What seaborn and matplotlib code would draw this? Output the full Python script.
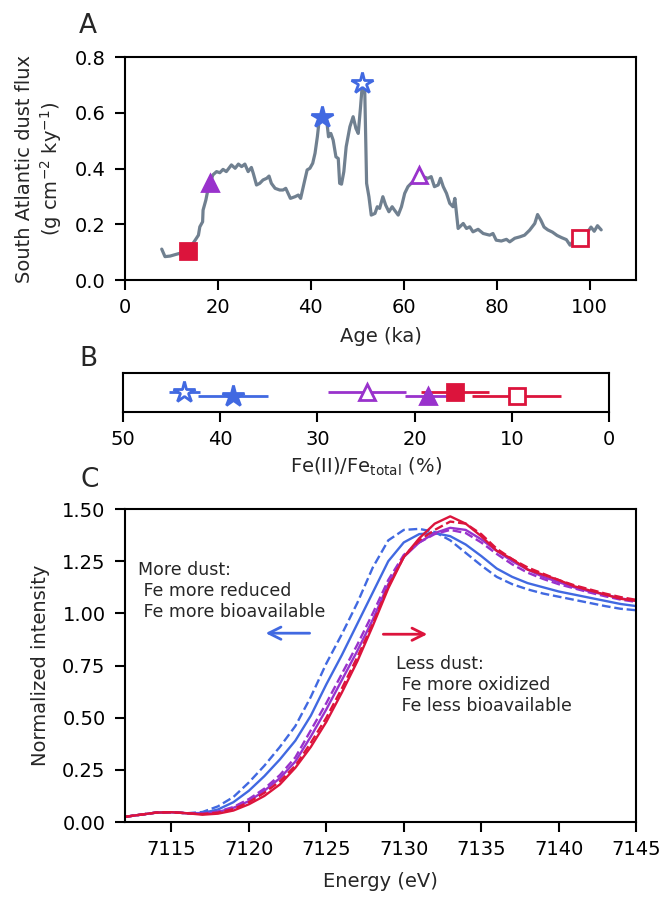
import numpy as np
import pandas as pd
import matplotlib
matplotlib.use("Agg")
import matplotlib.pyplot as plt
import seaborn as sns

# Panel A: South Atlantic dust flux record
age = [7.9, 8.6, 9.7, 11.8, 12.4, 13.5, 15.1, 15.8, 16.1, 16.7, 16.8, 17.4, 17.9, 18.3,
       18.9, 19.7, 20.4, 21.1, 21.8, 22.9, 23.7, 24.4, 25.1, 25.8, 26.5, 27.2, 27.6,
       28.3, 29.0, 29.7, 30.5, 31.0, 31.5, 32.3, 33.3, 34.0, 34.6, 35.1, 35.6, 36.6,
       37.3, 37.8, 38.2, 38.7, 39.2, 39.8, 40.4, 40.9, 41.4, 41.8, 42.5, 43.4, 43.8,
       44.3, 44.8, 45.4, 45.9, 46.2, 46.6, 47.1, 47.6, 48.4, 49.1, 49.7, 50.2, 50.7,
       51.1, 51.6, 52.0, 52.5, 53.0, 53.8, 54.3, 54.8, 55.5, 56.1, 56.8, 57.5, 58.0,
       58.8, 59.5, 60.2, 60.9, 61.6, 62.4, 63.2, 64.1, 65.2, 65.9, 66.6, 67.4, 67.9,
       68.5, 69.2, 69.9, 70.6, 71.0, 71.7, 72.8, 73.5, 74.2, 74.9, 76.0, 77.1, 78.5,
       79.2, 79.9, 81.0, 82.1, 82.8, 83.9, 85.0, 86.0, 87.1, 88.2, 88.8, 89.5, 90.2,
       91.0, 92.0, 93.0, 94.0, 95.0, 95.8, 96.5, 97.2, 98.0, 98.8, 99.5, 100.3, 101.0,
       101.7, 102.5]
flux = [0.111, 0.084, 0.086, 0.096, 0.078, 0.105, 0.143, 0.161, 0.191, 0.209, 0.251,
        0.287, 0.329, 0.347, 0.377, 0.389, 0.385, 0.397, 0.389, 0.413, 0.401, 0.416,
        0.407, 0.416, 0.389, 0.404, 0.383, 0.341, 0.347, 0.359, 0.365, 0.373, 0.347,
        0.329, 0.323, 0.323, 0.329, 0.311, 0.293, 0.299, 0.305, 0.293, 0.323, 0.359,
        0.395, 0.401, 0.419, 0.455, 0.514, 0.574, 0.586, 0.574, 0.514, 0.526, 0.502,
        0.442, 0.436, 0.347, 0.344, 0.389, 0.478, 0.550, 0.586, 0.544, 0.526, 0.622,
        0.706, 0.682, 0.347, 0.299, 0.233, 0.239, 0.263, 0.257, 0.299, 0.269, 0.245,
        0.263, 0.251, 0.233, 0.263, 0.311, 0.335, 0.347, 0.359, 0.377, 0.371, 0.365,
        0.371, 0.335, 0.341, 0.365, 0.335, 0.311, 0.275, 0.263, 0.293, 0.185, 0.203,
        0.185, 0.191, 0.173, 0.182, 0.167, 0.161, 0.167, 0.143, 0.140, 0.146, 0.137,
        0.150, 0.155, 0.161, 0.179, 0.203, 0.235, 0.215, 0.190, 0.180, 0.172, 0.160,
        0.152, 0.145, 0.125, 0.140, 0.128, 0.150, 0.160, 0.170, 0.190, 0.175, 0.195,
        0.180]

# samples: (age, flux) in A, Fe(II) % with error and row in B
sample_age = [13.5, 18.3, 42.5, 51.1, 63.2, 98.0]
sample_flux = [0.105, 0.347, 0.586, 0.706, 0.377, 0.150]
fe2 = [15.8, 18.6, 38.7, 43.7, 24.9, 9.5]
fe2_err = [3.5, 2.4, 3.6, 1.6, 4.0, 4.6]
fe2_row = [0.50, 0.42, 0.42, 0.50, 0.50, 0.42]
sample_color = ["crimson", "darkorchid", "royalblue", "royalblue", "darkorchid", "crimson"]
sample_marker = ["s", "^", "*", "*", "^", "s"]
sample_open = [False, False, False, True, True, True]

# Panel C: Fe K-edge XANES spectra
energy = list(range(7112, 7146))
base = [0.025, 0.035, 0.045, 0.047, 0.042]
spec_blue_open = base + [0.048, 0.075, 0.12, 0.19, 0.27, 0.36, 0.46, 0.60, 0.76, 0.90,
                         1.05, 1.22, 1.35, 1.40, 1.405, 1.39, 1.35, 1.29, 1.23, 1.175,
                         1.14, 1.115, 1.095, 1.08, 1.065, 1.05, 1.035, 1.022, 1.015]
spec_blue_fill = base + [0.043, 0.06, 0.095, 0.15, 0.22, 0.30, 0.39, 0.51, 0.66, 0.80,
                         0.95, 1.10, 1.25, 1.34, 1.38, 1.385, 1.37, 1.33, 1.275, 1.215,
                         1.175, 1.145, 1.125, 1.105, 1.09, 1.075, 1.06, 1.045, 1.035]
spec_purple_open = base + [0.04, 0.05, 0.072, 0.11, 0.16, 0.225, 0.31, 0.44, 0.57, 0.71,
                           0.85, 1.00, 1.16, 1.28, 1.34, 1.38, 1.40, 1.385, 1.34, 1.285,
                           1.235, 1.195, 1.165, 1.14, 1.12, 1.10, 1.082, 1.066, 1.055]
spec_purple_fill = base + [0.04, 0.048, 0.068, 0.10, 0.15, 0.21, 0.29, 0.41, 0.54, 0.68,
                           0.82, 0.97, 1.14, 1.27, 1.34, 1.385, 1.41, 1.40, 1.355, 1.30,
                           1.25, 1.21, 1.175, 1.15, 1.125, 1.105, 1.09, 1.072, 1.06]
spec_red_open = base + [0.038, 0.045, 0.062, 0.095, 0.14, 0.195, 0.27, 0.38, 0.50, 0.64,
                        0.79, 0.95, 1.13, 1.27, 1.35, 1.40, 1.44, 1.43, 1.38, 1.31,
                        1.26, 1.22, 1.19, 1.16, 1.135, 1.115, 1.095, 1.078, 1.065]
spec_red_fill = base + [0.035, 0.04, 0.055, 0.085, 0.125, 0.18, 0.26, 0.36, 0.48, 0.62,
                        0.77, 0.94, 1.12, 1.27, 1.36, 1.43, 1.465, 1.43, 1.37, 1.30,
                        1.26, 1.21, 1.185, 1.16, 1.13, 1.11, 1.09, 1.07, 1.06]

sns.set_style("ticks")
plt.rcParams.update({
    "font.family": ["DejaVu Sans"],
    "font.size": 14,
    "axes.edgecolor": "black",
    "axes.linewidth": 1.5,
    "xtick.major.width": 1.5,
    "ytick.major.width": 1.5,
    "xtick.major.size": 7,
    "ytick.major.size": 7,
    "xtick.major.pad": 6,
    "ytick.major.pad": 7,
    "xtick.color": "black",
    "ytick.color": "black",
    "xtick.labelsize": 14,
    "ytick.labelsize": 14,
    "axes.labelsize": 14,
})

fig = plt.figure(figsize=(6.64, 8.97), dpi=100)
axA = fig.add_axes([0.1883, 0.6878, 0.7696, 0.2486])
axB = fig.add_axes([0.1852, 0.5407, 0.7319, 0.0435])
axC = fig.add_axes([0.1883, 0.0836, 0.7696, 0.3489])

# A
sns.lineplot(x=age, y=flux, color="slategray", lw=2.3, ax=axA, sort=False)
for i in range(len(sample_age)):
    ms = 16 if sample_marker[i] == "*" else 11
    axA.plot(sample_age[i], sample_flux[i], marker=sample_marker[i], ms=ms,
             color=sample_color[i], mec=sample_color[i],
             mfc="white" if sample_open[i] else sample_color[i], mew=2, zorder=5)
axA.set_xlim(0, 110)
axA.set_ylim(0, 0.8)
axA.set_yticks([0, 0.2, 0.4, 0.6, 0.8])
axA.set_xlabel("Age (ka)", labelpad=7)
axA.set_ylabel("South Atlantic dust flux\n(g cm$^{-2}$ ky$^{-1}$)", labelpad=8)

# B
for i in range(len(fe2)):
    ms = 16 if sample_marker[i] == "*" else 11
    axB.errorbar(fe2[i], fe2_row[i], xerr=fe2_err[i], marker=sample_marker[i], ms=ms,
                 color=sample_color[i], mec=sample_color[i],
                 mfc="white" if sample_open[i] else sample_color[i], mew=2,
                 elinewidth=2, capsize=0, zorder=5)
axB.set_xlim(50, 0)
axB.set_ylim(0, 1)
axB.set_yticks([])
axB.set_xticks([50, 40, 30, 20, 10, 0])
axB.set_xlabel("Fe(II)/Fe$_{\\mathrm{total}}$ (%)", labelpad=5)

# C
spectra = [
    (spec_blue_open, "royalblue", "--"),
    (spec_blue_fill, "royalblue", "-"),
    (spec_purple_open, "darkorchid", "--"),
    (spec_purple_fill, "darkorchid", "-"),
    (spec_red_open, "crimson", "--"),
    (spec_red_fill, "crimson", "-"),
]
for vals, col, ls in spectra:
    sns.lineplot(x=energy, y=vals, color=col, linestyle=ls, lw=1.7, ax=axC)
axC.set_xlim(7112, 7145)
axC.set_ylim(0, 1.5)
axC.set_xticks([7115, 7120, 7125, 7130, 7135, 7140, 7145])
axC.set_yticks([0, 0.25, 0.5, 0.75, 1.0, 1.25, 1.5])
axC.yaxis.set_major_formatter(matplotlib.ticker.FormatStrFormatter("%.2f"))
axC.set_xlabel("Energy (eV)", labelpad=9)
axC.set_ylabel("Normalized intensity", labelpad=9)

axC.text(7112.85, 1.25, "More dust:\n Fe more reduced\n Fe more bioavailable",
         fontsize=12.5, va="top", ha="left", linespacing=1.2)
axC.text(7129.5, 0.80, "Less dust:\n Fe more oxidized\n Fe less bioavailable",
         fontsize=12.5, va="top", ha="left", linespacing=1.2)
axC.annotate("", xy=(7120.9, 0.905), xytext=(7124.1, 0.905),
             arrowprops=dict(arrowstyle="->", color="royalblue", lw=2, mutation_scale=22))
axC.annotate("", xy=(7131.7, 0.90), xytext=(7128.5, 0.90),
             arrowprops=dict(arrowstyle="->", color="crimson", lw=2, mutation_scale=22))

for ax in (axA, axB, axC):
    for s in ax.spines.values():
        s.set_visible(True)
        s.set_color("black")

fig.text(0.1325, 0.971, "A", fontsize=19, ha="center", va="center")
fig.text(0.1325, 0.600, "B", fontsize=19, ha="center", va="center")
fig.text(0.1355, 0.465, "C", fontsize=19, ha="center", va="center")

fig.savefig("out.png", dpi=100)
